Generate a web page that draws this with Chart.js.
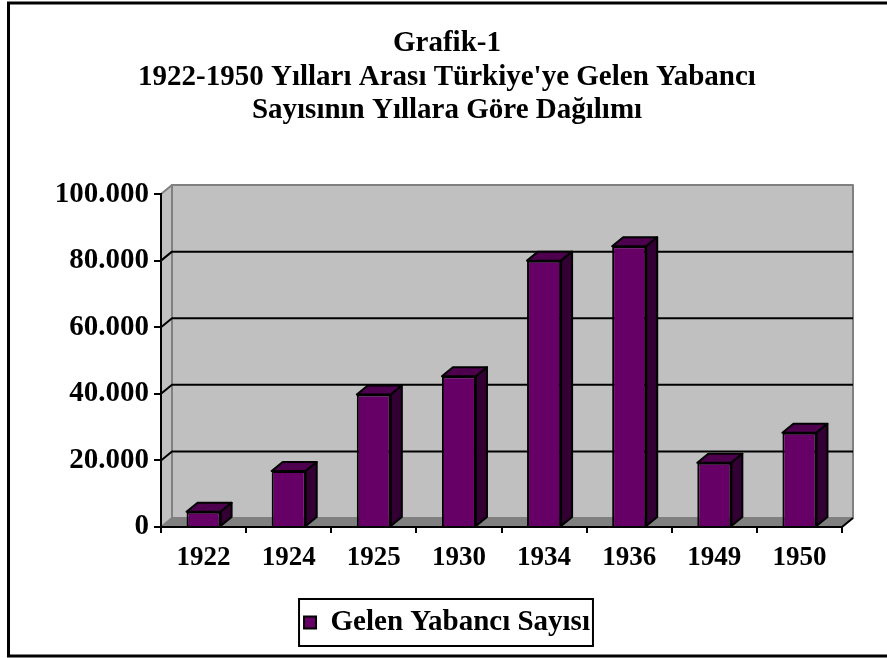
<!DOCTYPE html>
<html>
<head>
<meta charset="utf-8">
<script src="https://cdn.jsdelivr.net/npm/chart.js@4"></script>
<style>
  html, body { margin: 0; padding: 0; background: #fff; }
  #wrap { width: 887px; height: 658px; }
</style>
</head>
<body>
<div id="wrap"><canvas id="chart" width="887" height="658"></canvas></div>
<script>
// chart data
const years = ['1922', '1924', '1925', '1930', '1934', '1936', '1949', '1950'];
const foreigners = [4600, 16800, 39800, 45300, 80000, 84300, 19300, 28300];
const yMin = 0;
const yMax = 100000;
const yStep = 20000;
const titleLines = ['Grafik-1', "1922-1950 Yılları Arası Türkiye'ye Gelen Yabancı", 'Sayısının Yıllara Göre Dağılımı'];
const seriesName = 'Gelen Yabancı Sayısı';

const FONT = "'Liberation Serif', 'Times New Roman', serif";
const DX = 11, DY = -9; // depth offset for the fake 3d look

function dotted(v) {
  return String(v).replace(/\B(?=(\d{3})+(?!\d))/g, '.');
}

function poly(ctx, pts, fill, stroke, lw) {
  ctx.beginPath();
  ctx.moveTo(pts[0][0], pts[0][1]);
  for (let i = 1; i < pts.length; i++) ctx.lineTo(pts[i][0], pts[i][1]);
  ctx.closePath();
  if (fill) { ctx.fillStyle = fill; ctx.fill(); }
  if (stroke) { ctx.strokeStyle = stroke; ctx.lineWidth = lw || 1; ctx.stroke(); }
}

// walls, floor and back gridlines, then the top/side faces of each bar
const depth3d = {
  id: 'depth3d',
  beforeDraw(chart) {
    const ctx = chart.ctx;
    const { left: L, right: R, top: T, bottom: B } = chart.chartArea;
    const ys = chart.scales.y;
    ctx.save();
    ctx.lineJoin = 'round';
    // back wall
    poly(ctx, [[L + DX, T + DY], [R + DX, T + DY], [R + DX, B + DY], [L + DX, B + DY]], '#c0c0c0', '#808080', 2);
    // side wall
    poly(ctx, [[L, T], [L + DX, T + DY], [L + DX, B + DY], [L, B]], '#c0c0c0', '#808080', 2);
    // floor
    poly(ctx, [[L, B], [L + DX, B + DY], [R + DX, B + DY], [R, B]], '#808080', '#808080', 1);
    // gridlines
    ctx.strokeStyle = '#000';
    ctx.lineWidth = 2;
    ys.ticks.forEach(t => {
      if (t.value <= yMin || t.value >= yMax) return;
      const y = ys.getPixelForValue(t.value);
      ctx.beginPath();
      ctx.moveTo(L, y);
      ctx.lineTo(L + DX, y + DY);
      ctx.lineTo(R + DX, y + DY);
      ctx.stroke();
    });
    // right end of the floor edge
    ctx.beginPath();
    ctx.moveTo(R, B);
    ctx.lineTo(R + DX, B + DY);
    ctx.stroke();
    ctx.restore();
  },
  afterDatasetsDraw(chart) {
    const ctx = chart.ctx;
    const meta = chart.getDatasetMeta(0);
    ctx.save();
    ctx.lineJoin = 'round';
    meta.data.forEach(bar => {
      const p = bar.getProps(['x', 'y', 'base', 'width'], true);
      const l = p.x - p.width / 2, r = p.x + p.width / 2;
      poly(ctx, [[l, p.y], [l + DX, p.y + DY], [r + DX, p.y + DY], [r, p.y]], '#4e004e', '#000', 2);
      poly(ctx, [[r, p.y], [r + DX, p.y + DY], [r + DX, p.base + DY], [r, p.base]], '#330033', '#000', 2);
    });
    ctx.restore();
  },
  afterDraw(chart) {
    const ctx = chart.ctx;
    ctx.save();
    ctx.strokeStyle = '#000';
    // legend frame
    const hb = chart.legend.legendHitBoxes[0];
    if (hb) {
      ctx.lineWidth = 2;
      ctx.strokeRect(hb.left - 5, hb.top + hb.height / 2 - 23.5, hb.width + 8, 47);
    }
    // outer frame (right side runs off the picture)
    ctx.lineWidth = 3;
    ctx.beginPath();
    ctx.moveTo(887, 3);
    ctx.lineTo(8.5, 3);
    ctx.lineTo(8.5, 656);
    ctx.lineTo(887, 656);
    ctx.stroke();
    ctx.restore();
  }
};

new Chart(document.getElementById('chart'), {
  type: 'bar',
  data: {
    labels: years,
    datasets: [{
      label: seriesName,
      data: foreigners,
      backgroundColor: '#660066',
      borderColor: '#000',
      borderWidth: 2,
      barPercentage: 0.4,
      categoryPercentage: 1.0
    }]
  },
  options: {
    responsive: false,
    animation: false,
    layout: { padding: { left: 52, right: 45, top: 0, bottom: 11 } },
    plugins: {
      title: {
        display: true,
        text: titleLines,
        color: '#000',
        font: { family: FONT, size: 29, weight: 'bold', lineHeight: 1.15 },
        padding: { top: 27, bottom: 67 }
      },
      legend: {
        position: 'bottom',
        labels: {
          color: '#000',
          boxWidth: 12,
          boxHeight: 12,
          padding: 10,
          font: { family: FONT, size: 29, weight: 'bold' }
        }
      },
      tooltip: { enabled: false }
    },
    scales: {
      x: {
        offset: true,
        grid: { display: true, drawOnChartArea: false, drawTicks: true, tickLength: 6, color: '#000', lineWidth: 2, offset: true },
        border: { display: true, color: '#000', width: 2 },
        ticks: { color: '#000', padding: 9, font: { family: FONT, size: 27, weight: 'bold' } },
        afterFit(s) { s.height = 71; }
      },
      y: {
        min: yMin,
        max: yMax,
        grid: { display: true, drawOnChartArea: false, drawTicks: true, tickLength: 7, color: '#000', lineWidth: 2 },
        border: { display: true, color: '#000', width: 2 },
        ticks: {
          stepSize: yStep,
          color: '#000',
          padding: 5,
          font: { family: FONT, size: 29, weight: 'bold' },
          callback: v => dotted(v)
        },
        afterFit(s) { s.width = 109; }
      }
    }
  },
  plugins: [depth3d]
});
</script>
</body>
</html>
